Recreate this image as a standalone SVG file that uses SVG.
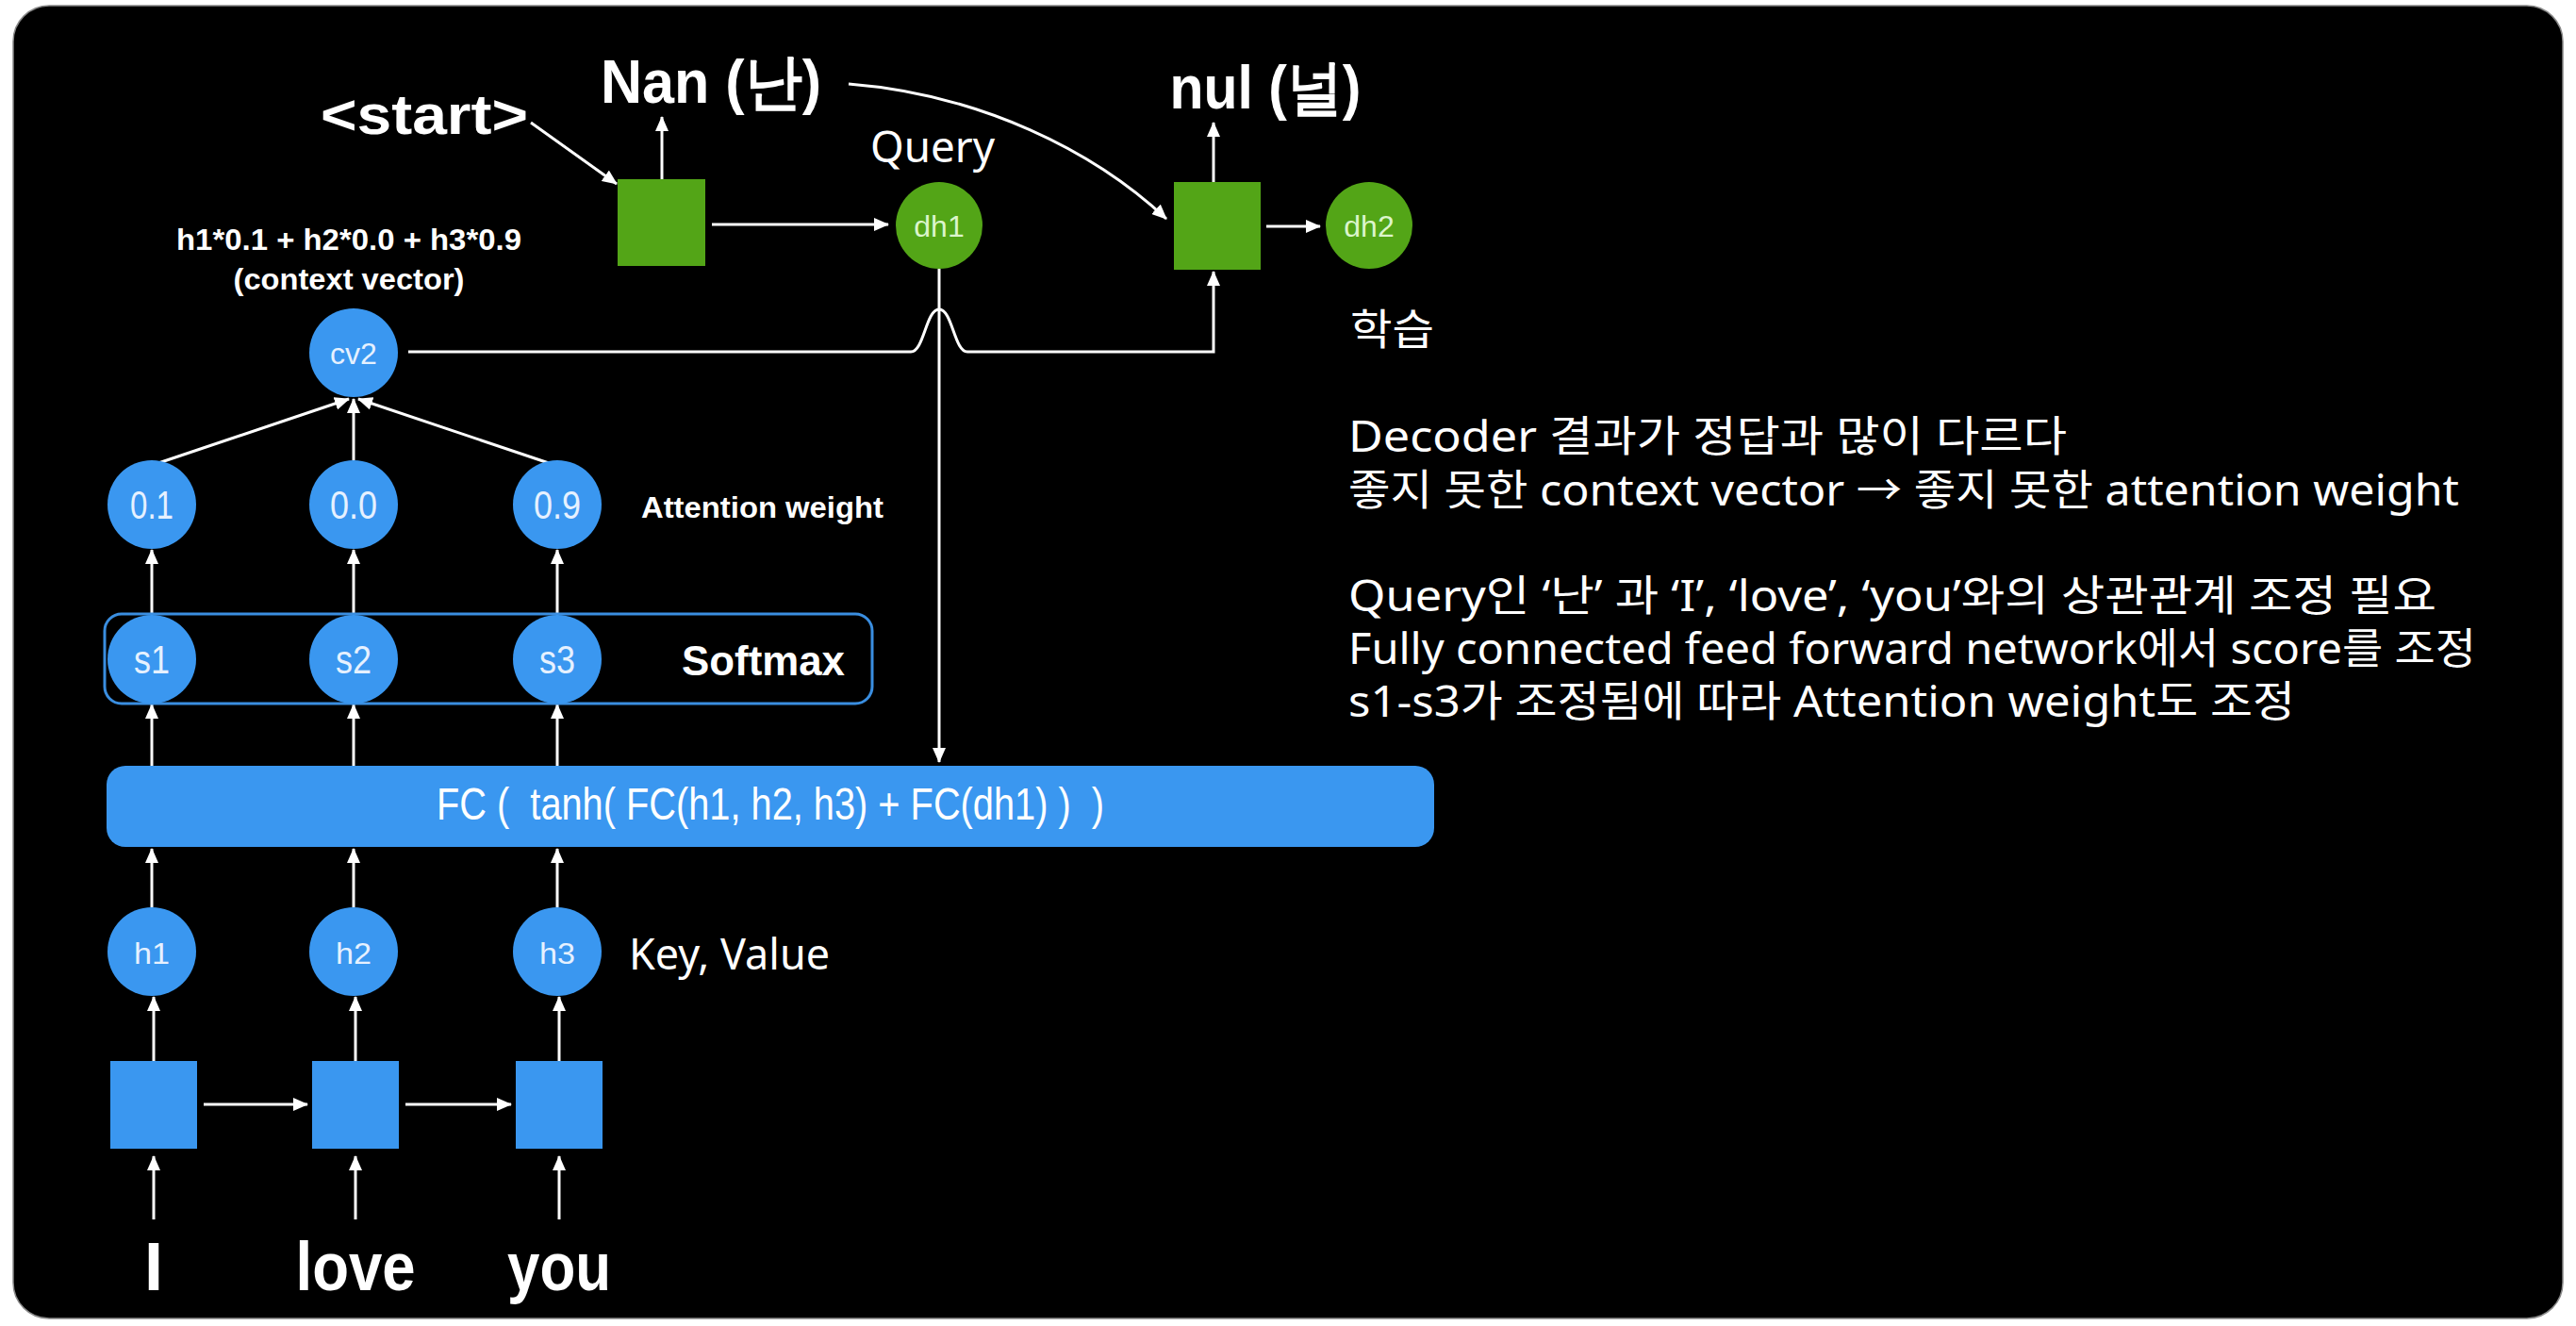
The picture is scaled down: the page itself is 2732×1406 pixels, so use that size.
<svg xmlns="http://www.w3.org/2000/svg" width="2732" height="1406" viewBox="0 0 2732 1406">
<style>
.lbl{font-family:"Liberation Sans",Arial,sans-serif;fill:#fff}
.b{font-weight:bold}
.node{font-family:"Liberation Sans",Arial,sans-serif;font-size:32px;text-anchor:middle}
.big{font-size:42px}
.bt{fill:#e6f1ff}
.gt{fill:#dcf5cc}
.kr{font-family:"Noto Sans","Noto Sans CJK KR",sans-serif;fill:#fff;font-size:45px}
.blue{fill:#3a97f0}
.green{fill:#53a517}
.ln{stroke:#fff;stroke-width:3;fill:none}
.arr{marker-end:url(#ah)}
</style>
<defs>
<marker id="ah" viewBox="0 0 16 14" refX="15" refY="7" markerWidth="16" markerHeight="14" markerUnits="userSpaceOnUse" orient="auto">
<path d="M0,0 L16,7 L0,14 z" fill="#fff"/>
</marker>
</defs>
<rect x="0" y="0" width="2732" height="1406" fill="#fff"/>
<rect x="14" y="6" width="2704" height="1392" rx="38" fill="#000" stroke="#888" stroke-width="1.5"/>

<g id="connectors">
<path class="ln arr" d="M563,130 L654,195"/>
<path class="ln arr" d="M702,190 L702,124"/>
<path class="ln arr" d="M755,238 L942,238"/>
<path class="ln arr" d="M900,89 C1040,100 1160,160 1237,232"/>
<path class="ln arr" d="M1287,193 L1287,130"/>
<path class="ln arr" d="M1343,240 L1400,240"/>
<path class="ln arr" d="M433,373 L966,373 C980,373 982,328 996,328 C1010,328 1012,373 1026,373 L1287,373 L1287,288"/>
<path class="ln arr" d="M996,285 L996,808"/>
<path class="ln arr" d="M168,491 L370,423"/>
<path class="ln arr" d="M375,488 L375,423"/>
<path class="ln arr" d="M582,491 L380,423"/>
<path class="ln arr" d="M161,652 L161,583"/>
<path class="ln arr" d="M375,652 L375,583"/>
<path class="ln arr" d="M591,652 L591,583"/>
<path class="ln arr" d="M161,812 L161,747"/>
<path class="ln arr" d="M375,812 L375,747"/>
<path class="ln arr" d="M591,812 L591,747"/>
<path class="ln arr" d="M161,962 L161,900"/>
<path class="ln arr" d="M375,962 L375,900"/>
<path class="ln arr" d="M591,962 L591,900"/>
<path class="ln arr" d="M163,1125 L163,1057"/>
<path class="ln arr" d="M377,1125 L377,1057"/>
<path class="ln arr" d="M593,1125 L593,1057"/>
<path class="ln arr" d="M216,1171 L326,1171"/>
<path class="ln arr" d="M430,1171 L542,1171"/>
<path class="ln arr" d="M163,1293 L163,1226"/>
<path class="ln arr" d="M377,1293 L377,1226"/>
<path class="ln arr" d="M593,1293 L593,1226"/>
</g>

<g id="start-label"><text class="lbl b" x="450" y="142" font-size="60" text-anchor="middle" textLength="220" lengthAdjust="spacingAndGlyphs">&lt;start&gt;</text></g>
<g id="nan-label"><text class="lbl b" x="754" y="109" font-size="64" text-anchor="middle" textLength="234" lengthAdjust="spacingAndGlyphs" font-family="'Liberation Sans','Noto Sans CJK KR',sans-serif">Nan (난)</text></g>
<g id="nul-label"><text class="lbl b" x="1342" y="115" font-size="64" text-anchor="middle" textLength="203" lengthAdjust="spacingAndGlyphs" font-family="'Liberation Sans','Noto Sans CJK KR',sans-serif">nul (널)</text></g>
<g id="dec-cell-1"><rect class="green" x="655" y="190" width="93" height="92"/></g>
<g id="dec-cell-2"><rect class="green" x="1245" y="193" width="92" height="93"/></g>
<g id="query-label"><text class="kr" x="989" y="172" font-size="44" text-anchor="middle" textLength="132" lengthAdjust="spacingAndGlyphs">Query</text></g>
<g id="dh1"><circle class="green" cx="996" cy="239" r="46"/><text class="node gt" x="996" y="251" font-size="34">dh1</text></g>
<g id="dh2"><circle class="green" cx="1452" cy="239" r="46"/><text class="node gt" x="1452" y="251" font-size="34">dh2</text></g>

<g id="context-label">
<text class="lbl b" x="370" y="265" font-size="32" text-anchor="middle" textLength="366" lengthAdjust="spacingAndGlyphs">h1*0.1 + h2*0.0 + h3*0.9</text>
<text class="lbl b" x="370" y="307" font-size="32" text-anchor="middle" textLength="245" lengthAdjust="spacingAndGlyphs">(context vector)</text>
</g>
<g id="cv2"><circle class="blue" cx="375" cy="374" r="47"/><text class="node bt" x="375" y="386" font-size="34">cv2</text></g>

<g id="w1"><circle class="blue" cx="161" cy="535" r="47"/><text class="node bt big" x="161" y="550" textLength="46" lengthAdjust="spacingAndGlyphs">0.1</text></g>
<g id="w2"><circle class="blue" cx="375" cy="535" r="47"/><text class="node bt big" x="375" y="550" textLength="50" lengthAdjust="spacingAndGlyphs">0.0</text></g>
<g id="w3"><circle class="blue" cx="591" cy="535" r="47"/><text class="node bt big" x="591" y="550" textLength="50" lengthAdjust="spacingAndGlyphs">0.9</text></g>
<g id="attn-label"><text class="lbl b" x="680" y="549" font-size="32" textLength="257" lengthAdjust="spacingAndGlyphs">Attention weight</text></g>

<g id="softmax">
<rect x="111" y="651" width="814" height="95" rx="18" fill="none" stroke="#3a8ee0" stroke-width="3"/>
<text class="lbl b" x="723" y="716" font-size="44" textLength="173" lengthAdjust="spacingAndGlyphs">Softmax</text>
</g>
<g id="s1"><circle class="blue" cx="161" cy="699" r="47"/><text class="node bt big" x="161" y="714" textLength="38" lengthAdjust="spacingAndGlyphs">s1</text></g>
<g id="s2"><circle class="blue" cx="375" cy="699" r="47"/><text class="node bt big" x="375" y="714" textLength="38" lengthAdjust="spacingAndGlyphs">s2</text></g>
<g id="s3"><circle class="blue" cx="591" cy="699" r="47"/><text class="node bt big" x="591" y="714" textLength="38" lengthAdjust="spacingAndGlyphs">s3</text></g>

<g id="fc"><rect class="blue" x="113" y="812" width="1408" height="86" rx="20"/>
<text class="lbl" x="817" y="869" font-size="48" text-anchor="middle" textLength="708" lengthAdjust="spacingAndGlyphs" xml:space="preserve" fill="#eef6ff">FC (  tanh( FC(h1, h2, h3) + FC(dh1) )  )</text></g>

<g id="h1"><circle class="blue" cx="161" cy="1009" r="47"/><text class="node bt" x="161" y="1022" font-size="38" textLength="38" lengthAdjust="spacingAndGlyphs">h1</text></g>
<g id="h2"><circle class="blue" cx="375" cy="1009" r="47"/><text class="node bt" x="375" y="1022" font-size="38" textLength="38" lengthAdjust="spacingAndGlyphs">h2</text></g>
<g id="h3"><circle class="blue" cx="591" cy="1009" r="47"/><text class="node bt" x="591" y="1022" font-size="38" textLength="38" lengthAdjust="spacingAndGlyphs">h3</text></g>
<g id="kv-label"><text class="kr" x="667" y="1028" font-size="44" textLength="213" lengthAdjust="spacingAndGlyphs">Key, Value</text></g>

<g id="enc-cell-1"><rect class="blue" x="117" y="1125" width="92" height="93"/></g>
<g id="enc-cell-2"><rect class="blue" x="331" y="1125" width="92" height="93"/></g>
<g id="enc-cell-3"><rect class="blue" x="547" y="1125" width="92" height="93"/></g>

<g id="in-I"><text class="lbl b" x="163" y="1368" font-size="72" text-anchor="middle">I</text></g>
<g id="in-love"><text class="lbl b" x="377" y="1368" font-size="72" text-anchor="middle" textLength="127" lengthAdjust="spacingAndGlyphs">love</text></g>
<g id="in-you"><text class="lbl b" x="593" y="1368" font-size="72" text-anchor="middle" textLength="110" lengthAdjust="spacingAndGlyphs">you</text></g>

<g id="notes">
<text class="kr" x="1432" y="366" textLength="89" lengthAdjust="spacingAndGlyphs">학습</text>
<text class="kr" x="1430" y="479" textLength="762" lengthAdjust="spacingAndGlyphs">Decoder 결과가 정답과 많이 다르다</text>
<text class="kr" x="1430" y="536" textLength="1178" lengthAdjust="spacingAndGlyphs">좋지 못한 context vector → 좋지 못한 attention weight</text>
<text class="kr" x="1430" y="648" textLength="1154" lengthAdjust="spacingAndGlyphs">Query인 ‘난’ 과 ‘I’, ‘love’, ‘you’와의 상관관계 조정 필요</text>
<text class="kr" x="1430" y="704" textLength="1196" lengthAdjust="spacingAndGlyphs">Fully connected feed forward network에서 score를 조정</text>
<text class="kr" x="1430" y="760" textLength="1004" lengthAdjust="spacingAndGlyphs">s1-s3가 조정됨에 따라 Attention weight도 조정</text>
</g>
</svg>
